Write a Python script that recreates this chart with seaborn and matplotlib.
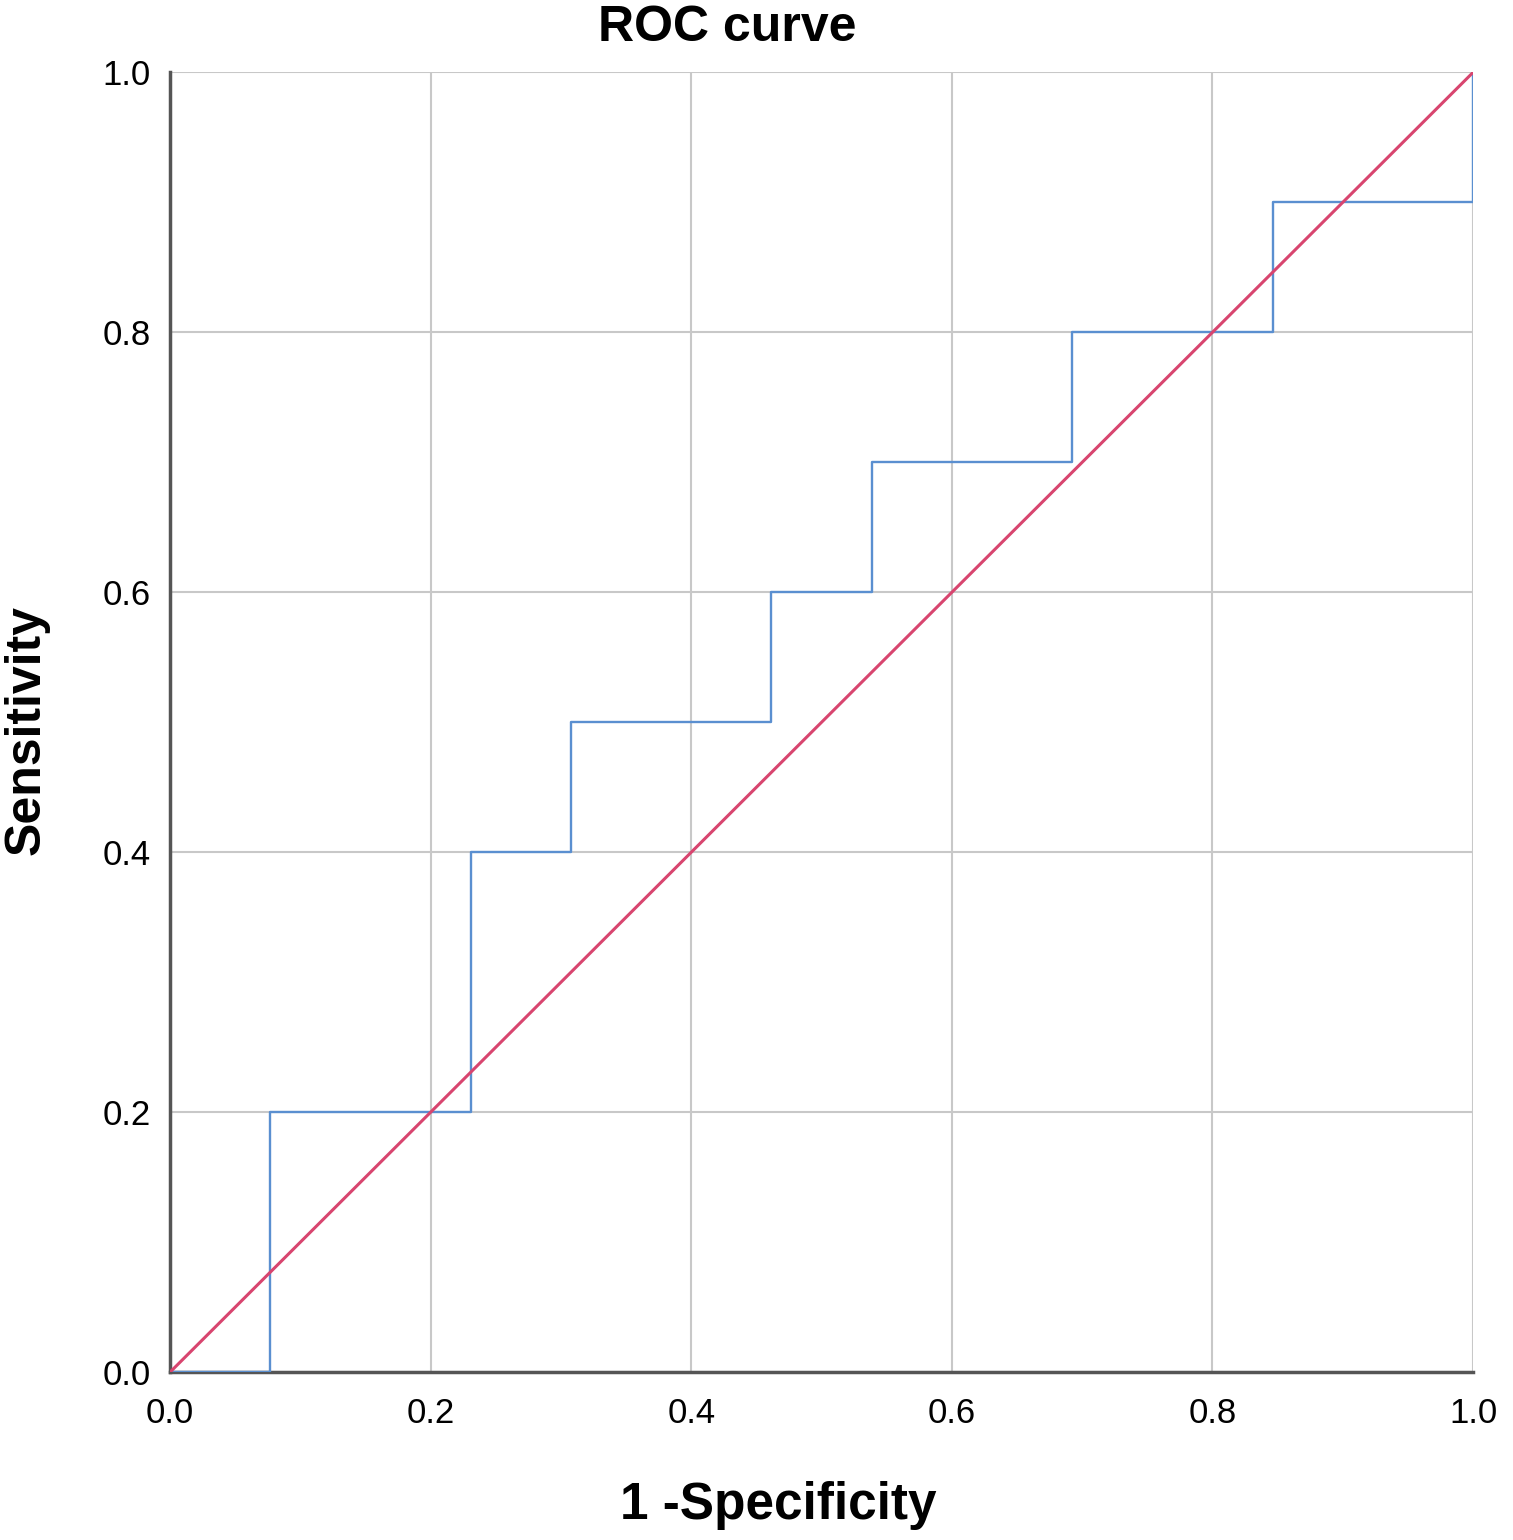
import matplotlib
matplotlib.use("Agg")
import matplotlib.pyplot as plt
import seaborn as sns
import pandas as pd

# ROC curve points (corners of the step curve)
fpr = [0.0, 1/13, 1/13, 3/13, 3/13, 4/13, 4/13, 6/13, 6/13, 7/13, 7/13,
       9/13, 9/13, 11/13, 11/13, 1.0, 1.0]
tpr = [0.0, 0.0, 0.2, 0.2, 0.4, 0.4, 0.5, 0.5, 0.6, 0.6, 0.7,
       0.7, 0.8, 0.8, 0.9, 0.9, 1.0]
ref_x = [0.0, 1.0]
ref_y = [0.0, 1.0]
ticks = [0.0, 0.2, 0.4, 0.6, 0.8, 1.0]

sns.set_style("white")
plt.rcParams['font.family'] = ['Liberation Sans', 'DejaVu Sans']
plt.rcParams['text.color'] = 'black'
plt.rcParams['xtick.color'] = 'black'
plt.rcParams['ytick.color'] = 'black'

df = pd.DataFrame({'fpr': fpr, 'tpr': tpr})
ref = pd.DataFrame({'x': ref_x, 'y': ref_y})

fig = plt.figure(figsize=(15.13, 15.4), dpi=100)
ax = fig.add_axes([0.1124, 0.109, 0.8612, 0.844])

ax.grid(True, color='#c8c8c8', linewidth=1.5)
sns.lineplot(data=df, x='fpr', y='tpr', sort=False, estimator=None,
             color='#5a8fd0', linewidth=1.7, ax=ax, zorder=3)
sns.lineplot(data=ref, x='x', y='y', sort=False, estimator=None,
             color='#d8456f', linewidth=2.2, ax=ax, zorder=4)

ax.set_xlim(0, 1)
ax.set_ylim(0, 1)
ax.set_xticks(ticks)
ax.set_yticks(ticks)
ax.set_xticklabels([f"{t:.1f}" for t in ticks], fontsize=25)
ax.set_yticklabels([f"{t:.1f}" for t in ticks], fontsize=25)
ax.tick_params(axis='both', length=0)
ax.tick_params(axis='x', pad=18)
ax.tick_params(axis='y', pad=14)

for s in ['top', 'right']:
    ax.spines[s].set_visible(False)
for s in ['left', 'bottom']:
    ax.spines[s].set_color('#555555')
    ax.spines[s].set_linewidth(2.5)

ax.set_xlabel("")
ax.set_ylabel("")
fig.text(727 / 1513, 1 - 28 / 1540, "ROC curve", fontsize=36, fontweight='bold',
         ha='center', va='center')
fig.text(778 / 1513, 1 - 1505 / 1540, "1 -Specificity", fontsize=37, fontweight='bold',
         ha='center', va='center')
fig.text(27 / 1513, 1 - 730 / 1540, "Sensitivity", fontsize=36, fontweight='bold',
         ha='center', va='center', rotation=90)

fig.savefig("out.png", dpi=100, facecolor='white')
